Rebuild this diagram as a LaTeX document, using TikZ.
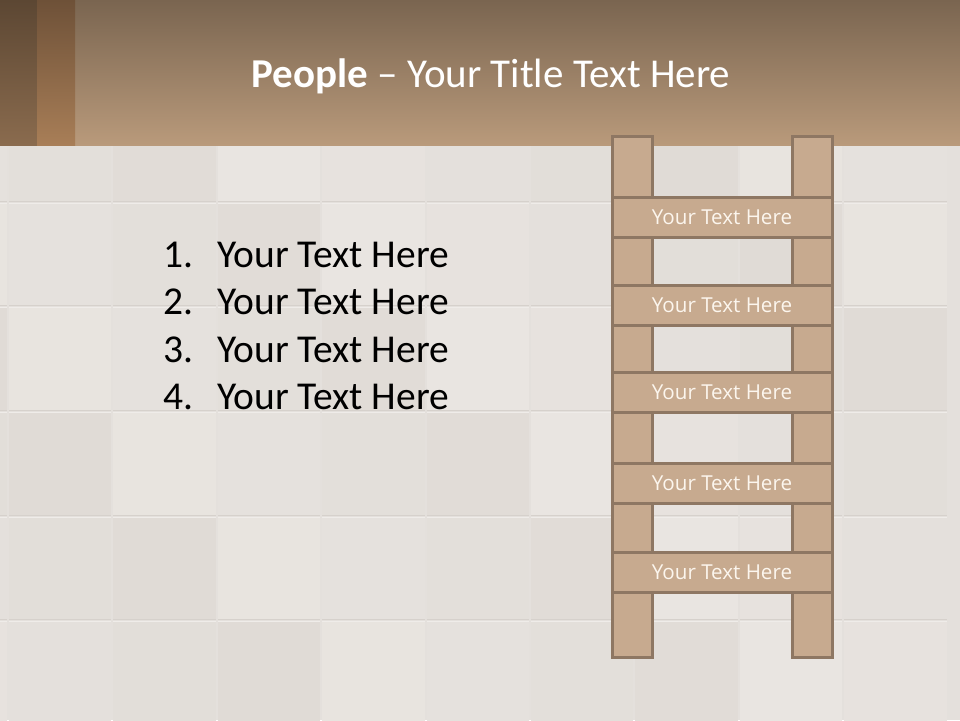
\documentclass[tikz,border=0pt]{standalone}
\usepackage{fontspec}
\setmainfont{Carlito}
\newfontfamily\ladderfont{Open Sans}
\usetikzlibrary{calc}
\definecolor{bgbase}{HTML}{E4E0DC}
\definecolor{tilelight}{HTML}{EAE6E2}
\definecolor{tiledark}{HTML}{DFDAD5}
\definecolor{tileedge}{HTML}{EFECE9}
\definecolor{tileshadow}{HTML}{D6D1CC}
\definecolor{headtop}{HTML}{7A6550}
\definecolor{headbot}{HTML}{B99A7B}
\definecolor{stripAtop}{HTML}{5C4733}
\definecolor{stripAbot}{HTML}{8A6B4E}
\definecolor{stripBtop}{HTML}{6E5138}
\definecolor{stripBbot}{HTML}{A87E57}
\definecolor{woodfill}{HTML}{C7AA8F}
\definecolor{woodedge}{HTML}{8E7763}
\definecolor{woodtext}{HTML}{FCF6EE}
\tikzset{
  rail/.style={draw=woodedge, fill=woodfill, line width=3pt, minimum width=40pt, inner sep=0pt, rectangle},
  rung/.style={draw=woodedge, fill=woodfill, line width=3pt, minimum width=220pt, minimum height=40pt, inner sep=0pt, rectangle,
    text=woodtext, font=\ladderfont\fontsize{20.6}{24}\selectfont},
  listnum/.style={anchor=base west, inner sep=0pt, font=\fontsize{39.5}{46}\selectfont, text=black},
  listtext/.style={anchor=base west, inner sep=0pt, font=\fontsize{39.5}{46}\selectfont, text=black},
}
\begin{document}
\begin{tikzpicture}[x=1pt,y=-1pt]
\useasboundingbox (0,0) rectangle (960,720);
% background
\fill[bgbase] (0,0) rectangle (960,720);
\foreach \i in {0,...,9}{
  \foreach \j in {0,...,6}{
    \pgfmathtruncatemacro{\sh}{mod(\i*7+\j*11+3,9)*10+10}
    \pgfmathsetmacro{\xa}{8+(\i-1)*104.4}
    \pgfmathsetmacro{\ya}{-7+(\j)*104.6}
    \fill[tilelight!\sh!tiledark] (\xa+1,\ya+1) rectangle (\xa+103.4,\ya+103.6);
    \draw[tileshadow, line width=0.7pt] (\xa+1,\ya+103.6) -- (\xa+103.4,\ya+103.6);
    \draw[tileedge, line width=0.7pt] (\xa+1,\ya+1) -- (\xa+103.4,\ya+1);
  }
}
% header
\shade[top color=headtop, bottom color=headbot] (0,0) rectangle (960,145);
\shade[top color=stripAtop, bottom color=stripAbot] (0,0) rectangle (37,145);
\shade[top color=stripBtop, bottom color=stripBbot] (37,0) rectangle (75,145);
\node[anchor=base, text=white, font=\fontsize{41}{48}\selectfont, inner sep=0pt] (title) at (491,87)
  {\textbf{People} – Your Title Text Here};
% list
\foreach \k/\yy in {1/267,2/314.5,3/362,4/409.5}{
  \node[listnum] (num\k) at (163,\yy) {\k.};
  \node[listtext] (item\k) at (217,\yy) {Your Text Here};
}
% ladder rails
\node[rail, minimum height=521pt] (railL) at (632,396.5) {};
\node[rail, minimum height=521pt] (railR) at (812,396.5) {};
% rungs
\node[rung] (rung1) at (722,217) {Your Text Here};
\node[rung] (rung2) at (722,305) {Your Text Here};
\node[rung] (rung3) at (722,392) {Your Text Here};
\node[rung] (rung4) at (722,483) {Your Text Here};
\node[rung] (rung5) at (722,572) {Your Text Here};
\end{tikzpicture}
\end{document}
